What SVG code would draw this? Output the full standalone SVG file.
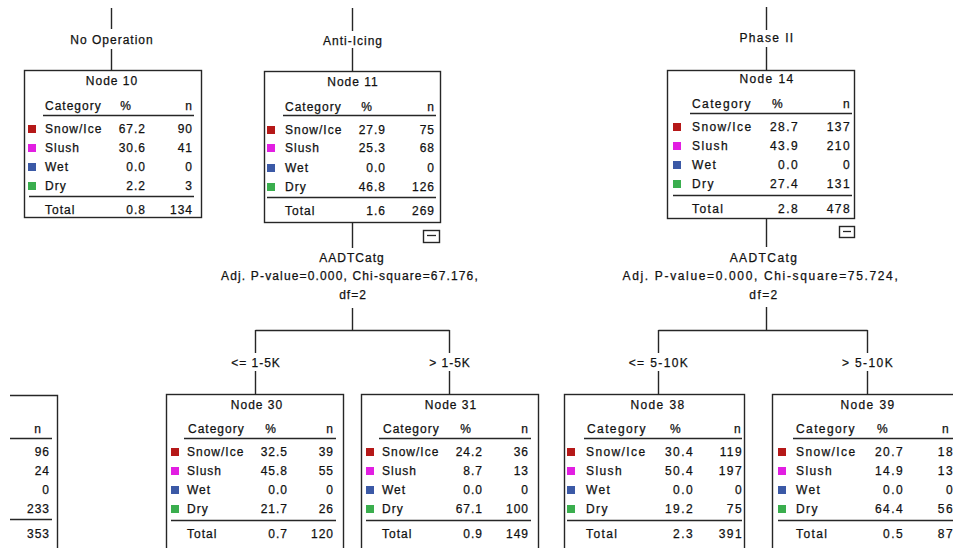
<svg xmlns="http://www.w3.org/2000/svg" width="953" height="548" viewBox="0 0 953 548">
  <style>
    text { font-family: "Liberation Sans", Arial, sans-serif; font-size: 12px; fill: #111; stroke: #111; stroke-width: 0.25px; letter-spacing: 1px; }
    .w text, text.w { letter-spacing: 1.4px; }
    .m { text-anchor: middle; }
    .e { text-anchor: end; }
    .box { fill: #fff; stroke: #262626; stroke-width: 1.4; }
    .ln { fill: none; stroke: #262626; stroke-width: 1.4; }
    .rule { fill: none; stroke: #262626; stroke-width: 1.3; }
    .snow { fill: #b51818; }
    .slush { fill: #e21ee2; }
    .wet { fill: #3b59a6; }
    .dry { fill: #3aae4e; }
  </style>

  <rect width="953" height="548" fill="#fff"/>

  <!-- connectors -->
  <g id="connectors" class="ln">
    <path d="M111.5 8V29M111.5 49V70"/>
    <path d="M352.5 8V31M352.5 48V71"/>
    <path d="M766.5 7V30M766.5 47V70"/>
    <!-- split under Node 11 -->
    <path d="M352.5 223V248M352.5 308V330.5M255.5 330.5H449.5M255.5 330V353M449.5 330V353M255.5 371V394M449.5 371V394"/>
    <!-- split under Node 14 -->
    <path d="M766.5 218V247M766.5 307V330.5M658.5 330.5H867.5M658.5 330V353M867.5 330V353M658.5 371V394M867.5 371V394"/>
  </g>

  <!-- edge and split labels -->
  <g id="labels">
    <text class="m" x="112" y="44">No Operation</text>
    <text class="m" x="353" y="45">Anti-Icing</text>
    <text class="m w" x="767" y="42">Phase II</text>
    <text class="m" x="352" y="262">AADTCatg</text>
    <text class="m" x="350" y="280" style="letter-spacing:1.15px">Adj. P-value=0.000, Chi-square=67.176,</text>
    <text class="m" x="353" y="299">df=2</text>
    <text class="m" x="256" y="367">&lt;= 1-5K</text>
    <text class="m" x="450" y="367">&gt; 1-5K</text>
    <text class="m w" x="764" y="262">AADTCatg</text>
    <text class="m" x="761" y="280" style="letter-spacing:1.65px">Adj. P-value=0.000, Chi-square=75.724,</text>
    <text class="m w" x="764" y="299">df=2</text>
    <text class="m w" x="659" y="367">&lt;= 5-10K</text>
    <text class="m w" x="868" y="367">&gt; 5-10K</text>
  </g>

  <!-- partially visible node on the left edge -->
  <g id="node-left">
    <path class="ln" d="M10 395.5H57.5V552"/>
    <text class="e" x="42" y="433">n</text>
    <path class="rule" d="M10 438.5H52"/>
    <text class="e" x="50" y="456">96</text>
    <text class="e" x="50" y="475">24</text>
    <text class="e" x="50" y="494">0</text>
    <text class="e" x="50" y="513">233</text>
    <path class="rule" d="M10 519.5H52"/>
    <text class="e" x="50" y="538">353</text>
  </g>

  <!-- Node 10 -->
  <g id="node10">
    <rect class="box" x="24.5" y="70.5" width="177" height="147"/>
    <text class="m" x="112" y="85">Node 10</text>
    <text x="45" y="110">Category</text>
    <text class="m" x="126" y="110">%</text>
    <text class="e" x="193" y="110">n</text>
    <path class="rule" d="M43 115.5H194"/>
    <rect class="snow" x="28" y="125" width="8" height="8"/>
    <rect class="slush" x="28" y="144" width="8" height="8"/>
    <rect class="wet" x="28" y="163" width="8" height="8"/>
    <rect class="dry" x="28" y="182" width="8" height="8"/>
    <text x="45" y="133">Snow/Ice</text><text class="e" x="146" y="133">67.2</text><text class="e" x="193" y="133">90</text>
    <text x="45" y="152">Slush</text><text class="e" x="146" y="152">30.6</text><text class="e" x="193" y="152">41</text>
    <text x="45" y="171">Wet</text><text class="e" x="146" y="171">0.0</text><text class="e" x="193" y="171">0</text>
    <text x="45" y="190">Dry</text><text class="e" x="146" y="190">2.2</text><text class="e" x="193" y="190">3</text>
    <path class="rule" d="M29 196.5H194"/>
    <text x="45" y="214">Total</text><text class="e" x="146" y="214">0.8</text><text class="e" x="193" y="214">134</text>
  </g>

  <!-- Node 11 -->
  <g id="node11">
    <rect class="box" x="264.5" y="71.5" width="176" height="151"/>
    <text class="m" x="353" y="86">Node 11</text>
    <text x="285" y="111">Category</text>
    <text class="m" x="367" y="111">%</text>
    <text class="e" x="435" y="111">n</text>
    <path class="rule" d="M283 115.5H436"/>
    <rect class="snow" x="267" y="126" width="8" height="8"/>
    <rect class="slush" x="267" y="144" width="8" height="8"/>
    <rect class="wet" x="267" y="164" width="8" height="8"/>
    <rect class="dry" x="267" y="183" width="8" height="8"/>
    <text x="285" y="134">Snow/Ice</text><text class="e" x="386" y="134">27.9</text><text class="e" x="435" y="134">75</text>
    <text x="285" y="152">Slush</text><text class="e" x="386" y="152">25.3</text><text class="e" x="435" y="152">68</text>
    <text x="285" y="172">Wet</text><text class="e" x="386" y="172">0.0</text><text class="e" x="435" y="172">0</text>
    <text x="285" y="191">Dry</text><text class="e" x="386" y="191">46.8</text><text class="e" x="435" y="191">126</text>
    <path class="rule" d="M267 197.5H436"/>
    <text x="285" y="215">Total</text><text class="e" x="386" y="215">1.6</text><text class="e" x="435" y="215">269</text>
    <rect class="box" x="423.5" y="230.5" width="16" height="12"/>
    <path class="rule" d="M427 235.5H436"/>
  </g>

  <!-- Node 14 -->
  <g id="node14" class="w">
    <rect class="box" x="667.5" y="70.5" width="187" height="148"/>
    <text class="m" x="767" y="83">Node 14</text>
    <text x="692" y="108">Category</text>
    <text class="m" x="778" y="108">%</text>
    <text class="e" x="851" y="108">n</text>
    <path class="rule" d="M690 113.5H852"/>
    <rect class="snow" x="673" y="123" width="8" height="8"/>
    <rect class="slush" x="673" y="142" width="8" height="8"/>
    <rect class="wet" x="673" y="161" width="8" height="8"/>
    <rect class="dry" x="673" y="180" width="8" height="8"/>
    <text x="692" y="131">Snow/Ice</text><text class="e" x="799" y="131">28.7</text><text class="e" x="851" y="131">137</text>
    <text x="692" y="150">Slush</text><text class="e" x="799" y="150">43.9</text><text class="e" x="851" y="150">210</text>
    <text x="692" y="169">Wet</text><text class="e" x="799" y="169">0.0</text><text class="e" x="851" y="169">0</text>
    <text x="692" y="188">Dry</text><text class="e" x="799" y="188">27.4</text><text class="e" x="851" y="188">131</text>
    <path class="rule" d="M673 195.5H852"/>
    <text x="692" y="213">Total</text><text class="e" x="799" y="213">2.8</text><text class="e" x="851" y="213">478</text>
    <rect class="box" x="839.5" y="226.5" width="15" height="11"/>
    <path class="rule" d="M843 231.5H851"/>
  </g>

  <!-- Node 30 -->
  <g id="node30">
    <rect class="box" x="166.5" y="394.5" width="177" height="160"/>
    <text class="m" x="257" y="409">Node 30</text>
    <text x="188" y="433">Category</text>
    <text class="m" x="271" y="433">%</text>
    <text class="e" x="334" y="433">n</text>
    <path class="rule" d="M184 438.5H336"/>
    <rect class="snow" x="171" y="448" width="8" height="8"/>
    <rect class="slush" x="171" y="467" width="8" height="8"/>
    <rect class="wet" x="171" y="486" width="8" height="8"/>
    <rect class="dry" x="171" y="505" width="8" height="8"/>
    <text x="187" y="456">Snow/Ice</text><text class="e" x="288" y="456">32.5</text><text class="e" x="334" y="456">39</text>
    <text x="187" y="475">Slush</text><text class="e" x="288" y="475">45.8</text><text class="e" x="334" y="475">55</text>
    <text x="187" y="494">Wet</text><text class="e" x="288" y="494">0.0</text><text class="e" x="334" y="494">0</text>
    <text x="187" y="513">Dry</text><text class="e" x="288" y="513">21.7</text><text class="e" x="334" y="513">26</text>
    <path class="rule" d="M171 520.5H336"/>
    <text x="187" y="538">Total</text><text class="e" x="288" y="538">0.7</text><text class="e" x="334" y="538">120</text>
  </g>

  <!-- Node 31 -->
  <g id="node31">
    <rect class="box" x="361.5" y="394.5" width="177" height="160"/>
    <text class="m" x="451" y="409">Node 31</text>
    <text x="383" y="433">Category</text>
    <text class="m" x="466" y="433">%</text>
    <text class="e" x="529" y="433">n</text>
    <path class="rule" d="M379 438.5H531"/>
    <rect class="snow" x="366" y="448" width="8" height="8"/>
    <rect class="slush" x="366" y="467" width="8" height="8"/>
    <rect class="wet" x="366" y="486" width="8" height="8"/>
    <rect class="dry" x="366" y="505" width="8" height="8"/>
    <text x="382" y="456">Snow/Ice</text><text class="e" x="483" y="456">24.2</text><text class="e" x="529" y="456">36</text>
    <text x="382" y="475">Slush</text><text class="e" x="483" y="475">8.7</text><text class="e" x="529" y="475">13</text>
    <text x="382" y="494">Wet</text><text class="e" x="483" y="494">0.0</text><text class="e" x="529" y="494">0</text>
    <text x="382" y="513">Dry</text><text class="e" x="483" y="513">67.1</text><text class="e" x="529" y="513">100</text>
    <path class="rule" d="M366 520.5H531"/>
    <text x="382" y="538">Total</text><text class="e" x="483" y="538">0.9</text><text class="e" x="529" y="538">149</text>
  </g>

  <!-- Node 38 -->
  <g id="node38" class="w">
    <rect class="box" x="564.5" y="394.5" width="180" height="160"/>
    <text class="m" x="658" y="409">Node 38</text>
    <text x="587" y="433">Category</text>
    <text class="m" x="676" y="433">%</text>
    <text class="e" x="742" y="433">n</text>
    <path class="rule" d="M584 438.5H742"/>
    <rect class="snow" x="567" y="448" width="8" height="8"/>
    <rect class="slush" x="567" y="467" width="8" height="8"/>
    <rect class="wet" x="567" y="486" width="8" height="8"/>
    <rect class="dry" x="567" y="505" width="8" height="8"/>
    <text x="586" y="456">Snow/Ice</text><text class="e" x="694" y="456">30.4</text><text class="e" x="743" y="456">119</text>
    <text x="586" y="475">Slush</text><text class="e" x="694" y="475">50.4</text><text class="e" x="743" y="475">197</text>
    <text x="586" y="494">Wet</text><text class="e" x="694" y="494">0.0</text><text class="e" x="743" y="494">0</text>
    <text x="586" y="513">Dry</text><text class="e" x="694" y="513">19.2</text><text class="e" x="743" y="513">75</text>
    <path class="rule" d="M567 520.5H742"/>
    <text x="586" y="538">Total</text><text class="e" x="694" y="538">2.3</text><text class="e" x="743" y="538">391</text>
  </g>

  <!-- Node 39 -->
  <g id="node39" class="w">
    <rect class="box" x="772.5" y="394.5" width="200" height="160"/>
    <text class="m" x="868" y="409">Node 39</text>
    <text x="796" y="433">Category</text>
    <text class="m" x="883" y="433">%</text>
    <text class="e" x="950" y="433">n</text>
    <path class="rule" d="M793 438.5H960"/>
    <rect class="snow" x="778" y="448" width="8" height="8"/>
    <rect class="slush" x="778" y="467" width="8" height="8"/>
    <rect class="wet" x="778" y="486" width="8" height="8"/>
    <rect class="dry" x="778" y="505" width="8" height="8"/>
    <text x="796" y="456">Snow/Ice</text><text class="e" x="904" y="456">20.7</text><text class="e" x="954" y="456">18</text>
    <text x="796" y="475">Slush</text><text class="e" x="904" y="475">14.9</text><text class="e" x="954" y="475">13</text>
    <text x="796" y="494">Wet</text><text class="e" x="904" y="494">0.0</text><text class="e" x="954" y="494">0</text>
    <text x="796" y="513">Dry</text><text class="e" x="904" y="513">64.4</text><text class="e" x="954" y="513">56</text>
    <path class="rule" d="M778 520.5H960"/>
    <text x="796" y="538">Total</text><text class="e" x="904" y="538">0.5</text><text class="e" x="954" y="538">87</text>
  </g>
</svg>
